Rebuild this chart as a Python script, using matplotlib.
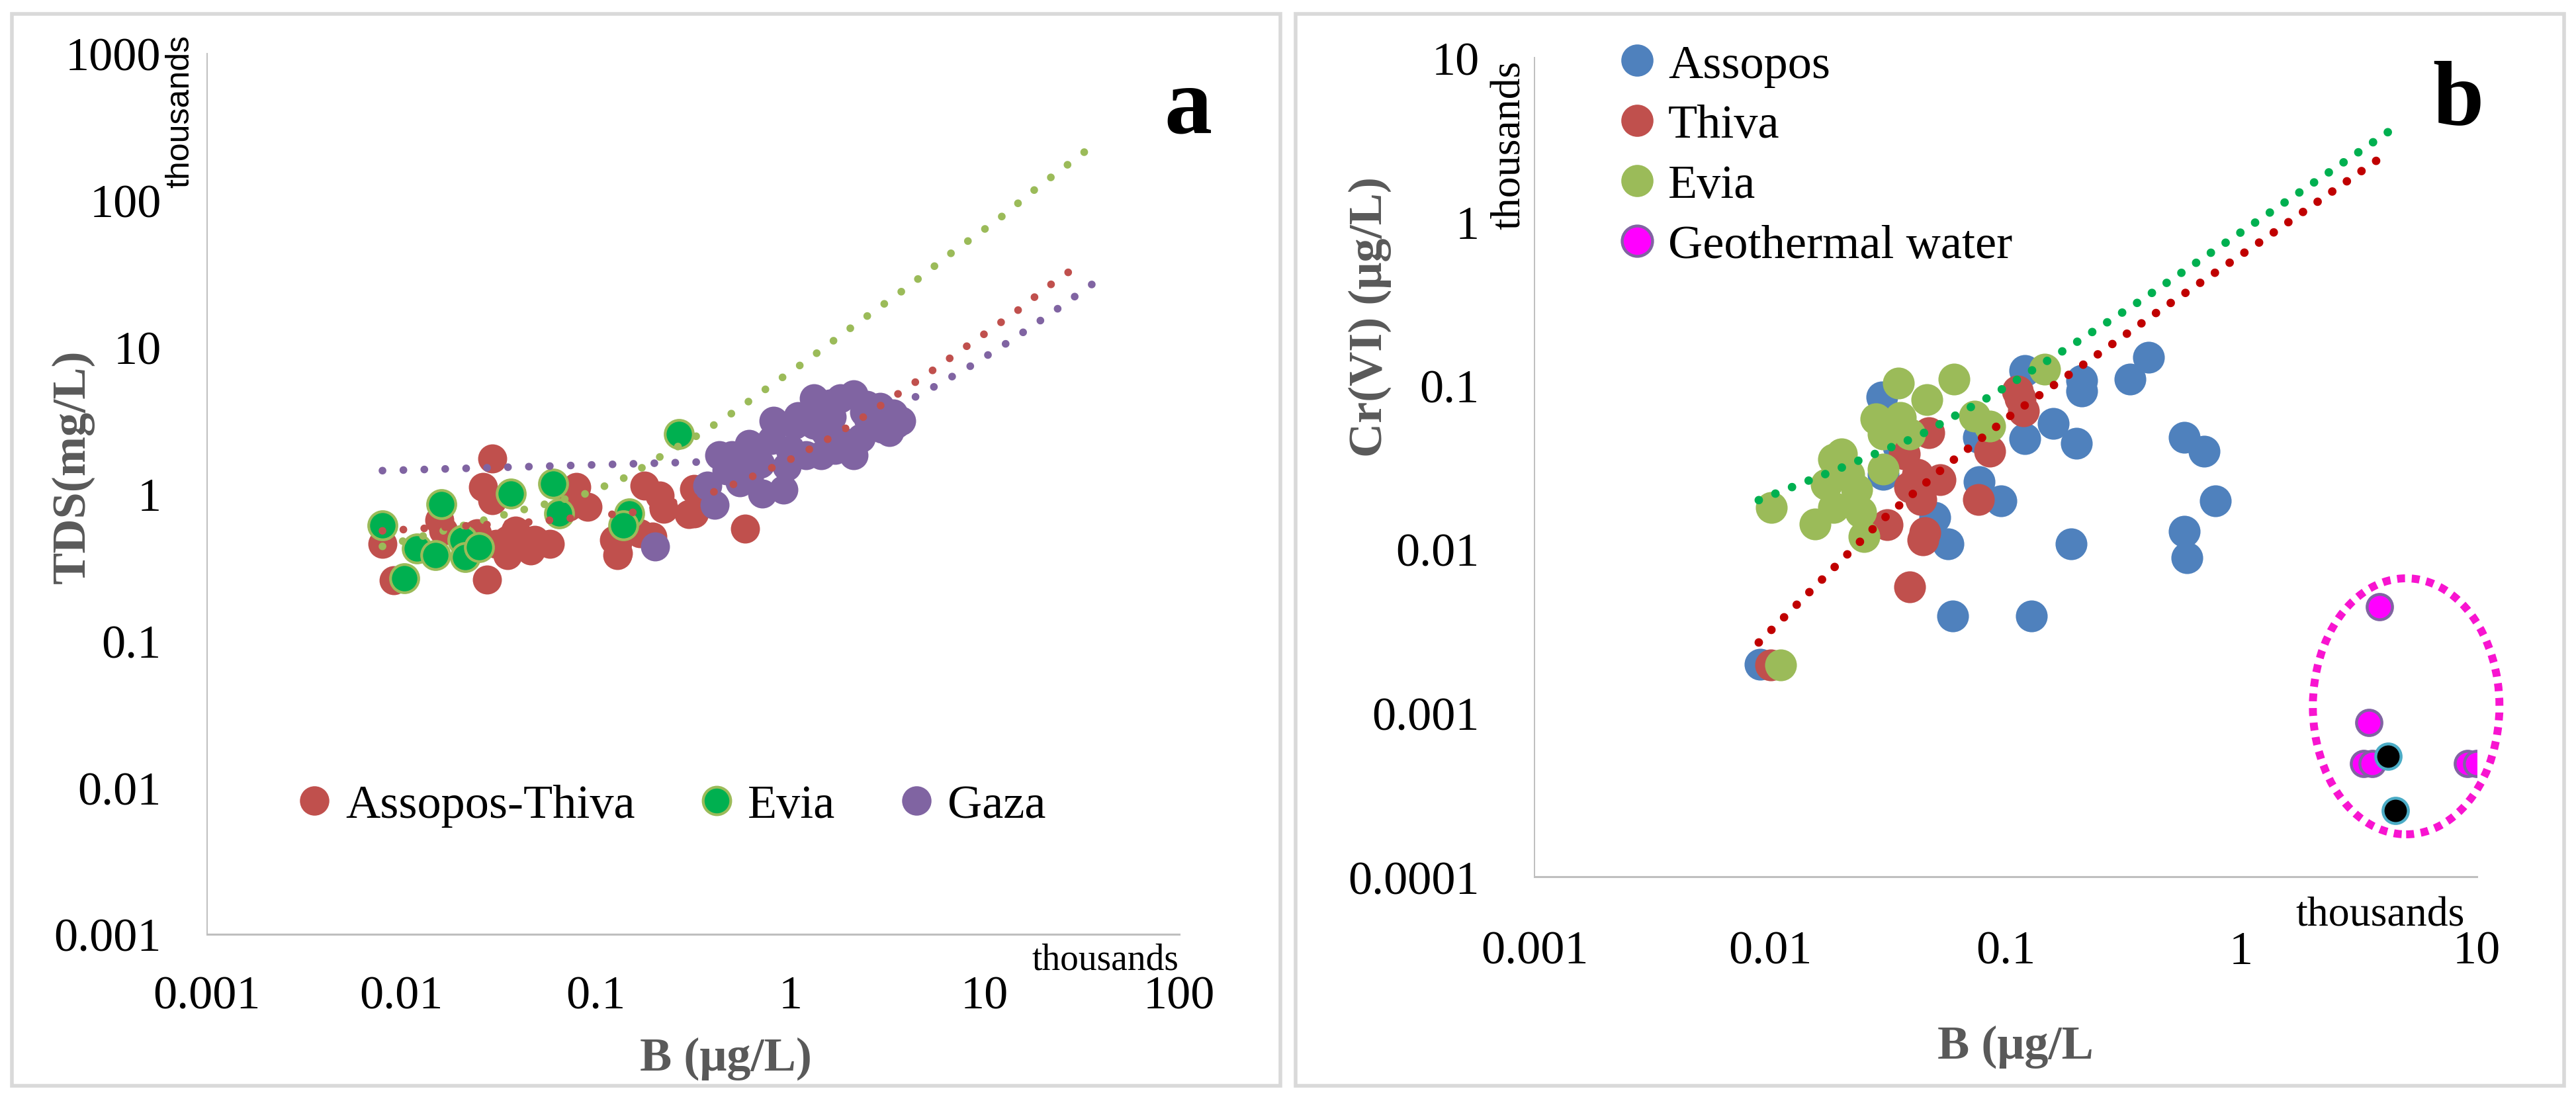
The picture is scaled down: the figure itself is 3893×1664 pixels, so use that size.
import numpy as np
import matplotlib
matplotlib.use("Agg")
import matplotlib.pyplot as plt
from matplotlib.lines import Line2D
from matplotlib.patches import Ellipse, Rectangle

SERIF = "Liberation Serif"
SANS = "Liberation Sans"
GREY_TXT = "#595959"
AXIS_GREY = "#BFBFBF"
FRAME_GREY = "#D9D9D9"

# ---------------- panel a: TDS vs B ----------------
A_XTICKS = [0.001, 0.01, 0.1, 1, 10, 100]
A_XTICKLABELS = ["0.001", "0.01", "0.1", "1", "10", "100"]
A_YTICKS = [0.001, 0.01, 0.1, 1, 10, 100, 1000]
A_YTICKLABELS = ["0.001", "0.01", "0.1", "1", "10", "100", "1000"]

at_x = [0.00798, 0.00912, 0.0293, 0.0262, 0.0293, 0.0157, 0.0164, 0.0245, 0.0307,
        0.0351, 0.0462, 0.0580, 0.0484, 0.0275, 0.0386, 0.0351, 0.0793, 0.0906,
        0.0722, 0.124, 0.130, 0.169, 0.178, 0.213, 0.223, 0.320, 0.320, 0.585,
        0.195, 0.129, 0.078, 0.192, 0.300, 0.341, 0.129]
at_y = [0.455, 0.257, 1.75, 1.12, 0.908, 0.666, 0.560, 0.541, 0.455,
        0.382, 0.410, 0.455, 0.488, 0.261, 0.560, 0.488, 1.12, 0.818,
        0.818, 0.488, 0.396, 0.541, 1.14, 0.973, 0.791, 1.08, 0.738, 0.579,
        0.509, 0.382, 1.01, 0.506, 0.728, 1.07, 0.46]

evia_a_x = [0.00798, 0.0160, 0.0365, 0.0603, 0.0647, 0.149, 0.138, 0.267, 0.0103,
            0.0120, 0.0150, 0.0206, 0.0212, 0.0250]
evia_a_y = [0.610, 0.851, 1.00, 1.17, 0.736, 0.736, 0.610, 2.56, 0.266,
            0.424, 0.382, 0.485, 0.371, 0.433]

gaza_x = [0.201, 0.408, 0.500, 0.614, 0.718, 0.922, 0.820, 1.05, 1.32, 1.44, 1.51,
          1.81, 2.11, 2.11, 1.81, 2.70, 3.39, 3.72, 2.96, 1.20, 0.959, 0.614,
          0.470, 0.374, 1.32, 0.80, 1.64, 2.47, 0.585, 3.23, 0.43,
          0.70, 1.00, 1.10, 1.60, 2.40, 2.90, 0.55, 1.70, 2.30, 3.50]
gaza_y = [0.438, 0.841, 1.83, 2.19, 1.00, 1.07, 3.15, 2.96, 4.48, 1.83, 2.64,
          4.48, 4.76, 1.83, 2.33, 3.15, 3.52, 3.15, 2.78, 1.83, 1.54, 1.29,
          1.45, 1.14, 2.96, 2.33, 3.35, 4.03, 1.83, 2.64, 1.83,
          1.60, 2.00, 3.40, 4.10, 3.60, 3.90, 1.20, 2.00, 2.40, 3.00]

# trendlines
trend_evia_a_x = [0.00798, 0.0164, 0.0269, 0.0441, 0.0906, 0.145, 0.223, 0.344, 0.525,
                  0.782, 1.19, 2.17, 3.93, 6.91, 11.7, 18.2, 33.6]
trend_evia_a_y = [0.439, 0.560, 0.666, 0.791, 1.01, 1.31, 1.85, 2.56, 3.69,
                  5.40, 7.93, 14.3, 25.1, 44.9, 73.8, 119, 220]
trend_at_x = [0.00798, 0.0462, 0.159, 0.425, 0.679, 1.06, 1.67, 2.53, 3.81, 5.63,
              8.14, 11.4, 15.5, 20.5, 27.7, 32.1]
trend_at_y = [0.560, 0.643, 0.751, 1.05, 1.36, 1.78, 2.48, 3.52, 5.07, 7.21,
              10.2, 13.9, 18.6, 25.1, 33.2, 38.4]
trend_gaza_x = [0.00798, 0.345, 1.0, 2.2, 4.63, 8.27, 14.1, 22.7, 36.4]
trend_gaza_y = [1.44, 1.65, 2.15, 3.0, 4.72, 7.29, 11.4, 17.5, 27.3]

# ---------------- panel b: Cr(VI) vs B ----------------
B_XTICKS = [0.001, 0.01, 0.1, 1, 10]
B_XTICKLABELS = ["0.001", "0.01", "0.1", "1", "10"]
B_YTICKS = [0.0001, 0.001, 0.01, 0.1, 1, 10]
B_YTICKLABELS = ["0.0001", "0.001", "0.01", "0.1", "1", "10"]

assopos_x = [0.0299, 0.1205, 0.210, 0.210, 0.337, 0.405, 0.1205, 0.159, 0.200,
             0.0767, 0.0770, 0.0955, 0.0571, 0.050, 0.190, 0.0596, 0.129, 0.573,
             0.697, 0.573, 0.589, 0.776, 0.0302, 0.00908, 0.0351]
assopos_y = [0.0848, 0.123, 0.107, 0.092, 0.109, 0.148, 0.0472, 0.0585, 0.0442,
             0.0481, 0.0258, 0.0197, 0.0108, 0.0156, 0.0108, 0.0039, 0.0039, 0.0481,
             0.0395, 0.0128, 0.00885, 0.0197, 0.0286, 0.00198, 0.0422]

thiva_x = [0.1154, 0.112, 0.119, 0.0472, 0.0857, 0.0767, 0.0392, 0.0454, 0.0446,
           0.0314, 0.0423, 0.0527, 0.0392, 0.0371, 0.0436, 0.01007]
thiva_y = [0.0832, 0.092, 0.0697, 0.0513, 0.0395, 0.0200, 0.00588, 0.0126, 0.0114,
           0.0141, 0.0286, 0.0265, 0.0239, 0.0381, 0.0200, 0.00196]

evia_b_x = [0.0351, 0.0464, 0.0604, 0.0281, 0.0357, 0.0302, 0.0392, 0.0201, 0.0186,
            0.0173, 0.0155, 0.0186, 0.0233, 0.0243, 0.0251, 0.0302, 0.0101, 0.0738,
            0.0857, 0.1466, 0.0111, 0.0216]
evia_b_y = [0.103, 0.0817, 0.109, 0.0624, 0.0635, 0.0504, 0.0504, 0.0381, 0.0353,
            0.0248, 0.0142, 0.0179, 0.0231, 0.0168, 0.0119, 0.0308, 0.0179, 0.0647,
            0.0562, 0.125, 0.00196, 0.0286]

geo_x = [3.86, 3.48, 3.30, 3.60, 9.10, 10.0]
geo_y = [0.00443, 0.000875, 0.000491, 0.000491, 0.000491, 0.000491]
geo_black_x = [4.21, 4.51]
geo_black_y = [0.000543, 0.000254]

trend_thiva_x = [0.00895, 0.01626, 0.0296, 0.0562, 0.1094, 0.2173, 0.4345, 1.230, 4.256]
trend_thiva_y = [0.00269, 0.00632, 0.0149, 0.0325, 0.0684, 0.136, 0.276, 0.767, 2.67]
trend_evia_b_x = [0.00895, 0.01945, 0.0426, 0.0889, 0.181, 0.372, 0.743, 1.483, 4.256]
trend_evia_b_y = [0.0199, 0.0308, 0.0490, 0.0879, 0.167, 0.327, 0.644, 1.268, 3.56]


def dotted(ax, x, y, color, lw, gap):
    ax.plot(x, y, color=color, lw=lw, linestyle=(0, (0.01, gap)),
            dash_capstyle="round", zorder=5)


def style_axes(ax, xt, xtl, yt, ytl, xpad, ypad):
    ax.set_xscale("log")
    ax.set_yscale("log")
    ax.set_xlim(xt[0], xt[-1])
    ax.set_ylim(yt[0], yt[-1])
    ax.set_xticks(xt)
    ax.set_xticklabels(xtl)
    ax.set_yticks(yt)
    ax.set_yticklabels(ytl)
    ax.minorticks_off()
    ax.tick_params(length=0, labelsize=26)
    ax.tick_params(axis="x", pad=xpad)
    ax.tick_params(axis="y", pad=ypad)
    for lab in ax.get_xticklabels() + ax.get_yticklabels():
        lab.set_fontfamily(SERIF)
    for s in ("top", "right"):
        ax.spines[s].set_visible(False)
    ax.spines["left"].set_color(AXIS_GREY)
    ax.spines["left"].set_linewidth(0.7)
    ax.spines["bottom"].set_color(AXIS_GREY)
    ax.spines["bottom"].set_linewidth(1.1)
    ax.patch.set_alpha(0)


fig = plt.figure(figsize=(19.465, 8.325), dpi=200)

# panel frames
for left in (0.00462, 0.5030):
    fig.add_artist(Rectangle((left, 0.0138), 0.4924, 0.973, transform=fig.transFigure,
                             fill=False, edgecolor=FRAME_GREY, lw=2.0))

# ---- panel a ----
ax = fig.add_axes([0.0804, 0.1514, 0.3773, 0.7994])
style_axes(ax, A_XTICKS, A_XTICKLABELS, A_YTICKS, A_YTICKLABELS, 22, 25)
ax.scatter(at_x, at_y, s=250, color="#C0504D", lw=0, zorder=2)
ax.scatter(evia_a_x, evia_a_y, s=235, color="#00B050", edgecolor="#9BBB59",
           lw=1.5, zorder=3)
ax.scatter(gaza_x, gaza_y, s=250, color="#8064A2", lw=0, zorder=3)
dotted(ax, trend_evia_a_x, trend_evia_a_y, "#9BBB59", 4.2, 2.7)
dotted(ax, trend_at_x, trend_at_y, "#C0504D", 4.2, 2.7)
dotted(ax, trend_gaza_x, trend_gaza_y, "#8064A2", 4.2, 2.7)

handles_a = [
    Line2D([], [], ls="", marker="o", ms=15, mfc="#C0504D", mec="#C0504D"),
    Line2D([], [], ls="", marker="o", ms=15, mfc="#00B050", mec="#9BBB59", mew=1.5),
    Line2D([], [], ls="", marker="o", ms=15, mfc="#8064A2", mec="#8064A2"),
]
ax.legend(handles_a, ["Assopos-Thiva", "Evia", "Gaza"], loc="center left",
          bbox_to_anchor=(0.086, 0.146), ncol=3, frameon=False,
          prop={"family": SERIF, "size": 26}, handlelength=1.0,
          handletextpad=0.15, columnspacing=1.2, borderpad=0, borderaxespad=0)

fig.text(0.02826, 0.5766, "TDS(mg/L)", rotation=90, ha="center", va="center",
         fontsize=26, fontweight="bold", color=GREY_TXT, family=SERIF)
fig.text(0.2818, 0.039, "B (\u03bcg/L)", ha="center", va="center",
         fontsize=26, fontweight="bold", color=GREY_TXT, family=SERIF)
fig.text(0.0699, 0.899, "thousands", rotation=90, ha="center", va="center",
         fontsize=18, family=SANS)
fig.text(0.4577, 0.1285, "thousands", ha="right", va="center",
         fontsize=20, family=SERIF)
fig.text(0.4611, 0.8793, "a", ha="center", va="baseline", fontsize=52,
         fontweight="bold", family=SERIF)

# ---- panel b ----
bx = fig.add_axes([0.5957, 0.2036, 0.3658, 0.7435])
style_axes(bx, B_XTICKS, B_XTICKLABELS, B_YTICKS, B_YTICKLABELS, 29, 30)
bx.scatter(assopos_x, assopos_y, s=300, color="#4F81BD", lw=0, zorder=2)
bx.scatter(thiva_x, thiva_y, s=300, color="#C0504D", lw=0, zorder=3)
bx.scatter(evia_b_x, evia_b_y, s=300, color="#9BBB59", lw=0, zorder=4)
bx.scatter(geo_x, geo_y, s=190, color="#FF00FF", edgecolor="#8064A2", lw=1.6, zorder=4)
bx.scatter(geo_black_x, geo_black_y, s=190, color="black", edgecolor="#4BACC6",
           lw=1.6, zorder=4)
dotted(bx, trend_evia_b_x, trend_evia_b_y, "#00B050", 4.6, 2.1)
dotted(bx, trend_thiva_x, trend_thiva_y, "#C00000", 4.6, 2.1)

bx.add_patch(Ellipse((0.925, 0.208), 0.198, 0.3126, transform=bx.transAxes,
                     fill=False, edgecolor="#F814D0", lw=4.3,
                     linestyle=(0, (1, 0.85)), clip_on=False, zorder=6))

handles_b = [
    Line2D([], [], ls="", marker="o", ms=16.5, mfc="#4F81BD", mec="#4F81BD"),
    Line2D([], [], ls="", marker="o", ms=16.5, mfc="#C0504D", mec="#C0504D"),
    Line2D([], [], ls="", marker="o", ms=16.5, mfc="#9BBB59", mec="#9BBB59"),
    Line2D([], [], ls="", marker="o", ms=16.5, mfc="#FF00FF", mec="#8064A2", mew=1.6),
]
bx.legend(handles_b, ["Assopos", "Thiva", "Evia", "Geothermal water"],
          loc="upper left", bbox_to_anchor=(0.0836, 1.017), frameon=False,
          prop={"family": SERIF, "size": 26}, handlelength=1.0,
          handletextpad=0.15, labelspacing=0.35, borderpad=0, borderaxespad=0)

fig.text(0.5317, 0.712, "Cr(VI) (\u03bcg/L)", rotation=90, ha="center", va="center",
         fontsize=26, fontweight="bold", color=GREY_TXT, family=SERIF)
fig.text(0.7824, 0.0498, "B (\u03bcg/L", ha="center", va="center",
         fontsize=26, fontweight="bold", color=GREY_TXT, family=SERIF)
fig.text(0.5862, 0.8685, "thousands", rotation=90, ha="center", va="center",
         fontsize=23, family=SERIF)
fig.text(0.924, 0.1682, "thousands", ha="center", va="center",
         fontsize=23, family=SERIF)
fig.text(0.9543, 0.8871, "b", ha="center", va="baseline", fontsize=50,
         fontweight="bold", family=SERIF)

fig.savefig("out.png", dpi=200)
